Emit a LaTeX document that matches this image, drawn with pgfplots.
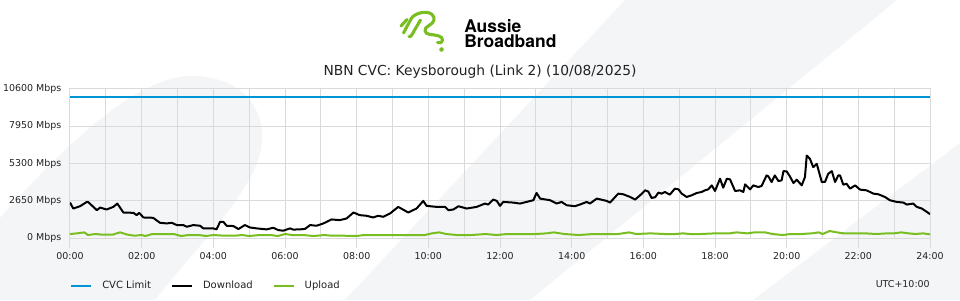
\documentclass[border=0pt]{standalone}
\usepackage{pgfplots}
\pgfplotsset{compat=1.18}
\usepackage{pgfplotstable}
\usepackage{fontspec}
\setmainfont{DejaVu Sans}
\newfontfamily\logofont{TeX Gyre Heros}
\definecolor{bgc}{RGB}{244,245,247}
\definecolor{gridc}{RGB}{218,218,218}
\definecolor{cvc}{RGB}{0,150,214}
\definecolor{abbgreen}{RGB}{120,190,32}
\definecolor{txt}{RGB}{34,34,34}

\pgfplotstableread{
h v
0 10000
24 10000
}\cvctable

\pgfplotstableread{
h v
0.00 2523
0.09 2099
0.28 2261
0.47 2567
0.51 2550
0.75 1979
0.84 2167
1.02 2026
1.21 2214
1.32 2450
1.49 1814
1.77 1790
1.86 1625
1.93 1790
2.05 1460
2.32 1437
2.51 1083
2.70 1036
2.84 1083
2.98 919
3.16 919
3.26 801
3.44 919
3.63 872
3.72 683
4.00 683
4.09 612
4.19 1154
4.28 1154
4.37 872
4.56 850
4.70 636
4.88 919
5.02 750
5.21 683
5.49 612
5.67 730
5.81 565
5.95 518
6.14 683
6.23 600
6.42 612
6.56 650
6.70 919
6.88 872
7.07 1036
7.30 1319
7.53 1272
7.72 1390
7.91 1814
8.09 1625
8.28 1580
8.46 1460
8.60 1580
8.74 1508
8.93 1743
9.16 2214
9.44 1814
9.67 2097
9.86 2638
9.95 2285
10.23 2214
10.47 2214
10.56 1979
10.70 2030
10.84 2261
11.07 2097
11.35 2214
11.58 2450
11.67 2380
11.81 2733
11.91 2640
12.00 2285
12.09 2567
12.37 2520
12.56 2450
12.74 2567
12.93 2686
13.02 3203
13.12 2803
13.40 2686
13.58 2450
13.72 2567
13.86 2332
14.09 2261
14.23 2380
14.42 2567
14.51 2450
14.70 2803
14.98 2638
15.07 2520
15.30 3156
15.44 3110
15.63 2921
15.77 2733
15.91 3038
16.05 3392
16.14 3300
16.23 2850
16.33 2900
16.42 3227
16.51 3156
16.60 3274
16.74 3085
16.88 3510
16.98 3460
17.07 3156
17.21 2921
17.35 3040
17.49 3203
17.63 3274
17.72 3392
17.81 3460
17.91 3745
18.00 3344
18.14 4219
18.23 3580
18.33 4219
18.42 4170
18.56 3344
18.70 3392
18.79 3270
18.84 3816
18.98 3462
19.07 3745
19.21 3627
19.30 3700
19.44 4452
19.49 4380
19.58 3980
19.67 4452
19.77 4051
19.86 4100
19.91 4757
20.00 4740
20.09 4382
20.19 3910
20.28 4149
20.42 3745
20.51 4334
20.56 5866
20.65 5632
20.74 5040
20.84 5276
20.98 3980
21.07 3990
21.16 4570
21.26 4757
21.35 3980
21.44 4452
21.49 4450
21.58 3792
21.67 3863
21.77 3510
21.91 3745
22.05 3439
22.23 3392
22.42 3156
22.56 3110
22.74 2921
22.88 2686
23.07 2567
23.26 2520
23.35 2379
23.53 2450
23.63 2214
23.77 2097
23.91 1861
24.00 1696
}\dltable

\pgfplotstableread{
h v
0.0 283
0.2 330
0.4 400
0.5 212
0.7 283
0.9 240
1.2 240
1.3 330
1.4 400
1.6 240
1.8 165
2.0 212
2.1 141
2.3 283
2.6 283
2.9 283
3.1 141
3.3 212
3.6 212
3.8 141
4.0 212
4.3 165
4.6 165
4.8 212
5.0 141
5.3 212
5.6 212
5.8 141
6.0 283
6.2 212
6.5 212
6.8 141
7.1 212
7.3 165
7.6 165
8.0 141
8.2 212
8.6 212
9.0 212
9.5 212
9.9 212
10.1 330
10.3 400
10.5 283
10.8 212
11.2 212
11.6 283
11.9 212
12.2 283
12.6 283
13.0 283
13.3 330
13.5 400
13.8 283
14.2 212
14.6 283
15.0 283
15.3 283
15.6 400
15.8 283
16.2 330
16.6 283
16.9 283
17.1 330
17.3 283
17.6 283
18.0 330
18.4 330
18.6 400
18.9 330
19.1 400
19.4 400
19.6 283
19.9 212
20.1 283
20.4 283
20.7 330
20.9 400
21.0 283
21.2 495
21.4 400
21.6 330
21.9 330
22.2 330
22.5 283
22.8 330
23.0 330
23.2 400
23.4 330
23.6 283
23.8 330
24.0 259
}\ultable

\begin{document}
\begin{tikzpicture}
\begin{scope}[x=0.75pt,y=-0.75pt,yshift=225pt]
  \fill[white] (0,0) rectangle (960,300);
  % background decoration
  \fill[bgc] (0,218) .. controls (70,140) and (140,74) .. (195,76)
             .. controls (250,78) and (272,120) .. (258,160)
             .. controls (245,200) and (190,255) .. (155,300) -- (0,300) -- cycle;
  \fill[bgc] (625,0) -- (897,0) -- (530,300) -- (345,300) -- cycle;
  \fill[bgc] (960,143) -- (960,300) -- (753,300) -- cycle;
  % logo
  \begin{scope}[abbgreen, line width=2.3pt, line cap=round, line join=round]
    \draw (401,26) -- (407,19.5);
    \draw (403.5,33) -- (411,19) .. controls (414,13) and (427,10) .. (432,14.5)
          .. controls (436,18) and (434,23) .. (429,25.5)
          .. controls (423,28) and (424,34) .. (430,34.5)
          .. controls (436,35) and (443,36) .. (442.5,40)
          .. controls (442,43) and (439,43.5) .. (437.5,42.5);
    \draw (409,36.5) .. controls (410.5,37.5) and (412,35) .. (414,31) -- (420.5,20);
    \fill (441.5,49.5) circle (1.7pt);
  \end{scope}
  \node[anchor=base west, inner sep=0pt, font=\logofont\bfseries\fontsize{13.1pt}{13pt}\selectfont] at (464,32.3) {Aussie};
  \node[anchor=base west, inner sep=0pt, font=\logofont\bfseries\fontsize{13.1pt}{13pt}\selectfont] at (464,47.8) {Broadband};
  % title
  \node[anchor=base, inner sep=0pt, text=txt, font=\fontsize{10.35pt}{12pt}\selectfont] at (480,75.2) {NBN CVC: Keysborough (Link 2) (10/08/2025)};
  \node[anchor=east, inner sep=0pt, text=txt, font=\fontsize{7.1pt}{8pt}\selectfont] at (930,284) {UTC+10:00};
\end{scope}

\begin{axis}[
  at={(52.5pt,46.5pt)}, anchor=south west,
  scale only axis, width=645pt, height=111.75pt,
  xmin=0, xmax=24, ymin=0, ymax=10600,
  scaled y ticks=false, scaled x ticks=false,
  xtick={0,2,...,24},
  xticklabels={00:00,02:00,04:00,06:00,08:00,10:00,12:00,14:00,16:00,18:00,20:00,22:00,24:00},
  minor xtick={1,3,...,23},
  ytick={0,2650,5300,7950,10600},
  yticklabels={0 Mbps,2650 Mbps,5300 Mbps,7950 Mbps,10600 Mbps},
  grid=both,
  major grid style={gridc, line width=0.75pt},
  minor grid style={gridc, line width=0.75pt},
  axis line style={gridc, line width=0.75pt},
  tick align=outside, tick pos=left,
  major tick length=7.5pt, minor tick length=0pt,
  xtick style={gridc, line width=0.75pt},
  ytick style={draw=none},
  ticklabel style={font=\fontsize{7.1pt}{8pt}\selectfont, text=txt},
  yticklabel style={xshift=4.5pt},
  legend columns=3,
  legend cell align=left,
  legend style={at={(0,-0.322)}, anchor=west, draw=none, fill=none, inner sep=0pt,
    font=\fontsize{7.5pt}{9pt}\selectfont, text=txt,
    nodes={inner sep=0pt},
    /tikz/every odd column/.append style={column sep=7.5pt},
    /tikz/every even column/.append style={column sep=15pt}},
  legend image code/.code={\draw[#1, line width=1.5pt] (0pt,0pt) -- (15pt,0pt);},
]
\addplot[cvc, line width=1.5pt] table[x=h, y=v] {\cvctable};
\addlegendentry{CVC Limit}
\addplot[black, line width=1.5pt, line join=round] table[x=h, y=v] {\dltable};
\addlegendentry{Download}
\addplot[abbgreen, line width=1.5pt, line join=round] table[x=h, y=v] {\ultable};
\addlegendentry{Upload}
\end{axis}
\pgfresetboundingbox
\path[use as bounding box] (0,0) rectangle (720pt,225pt);
\end{tikzpicture}
\end{document}
